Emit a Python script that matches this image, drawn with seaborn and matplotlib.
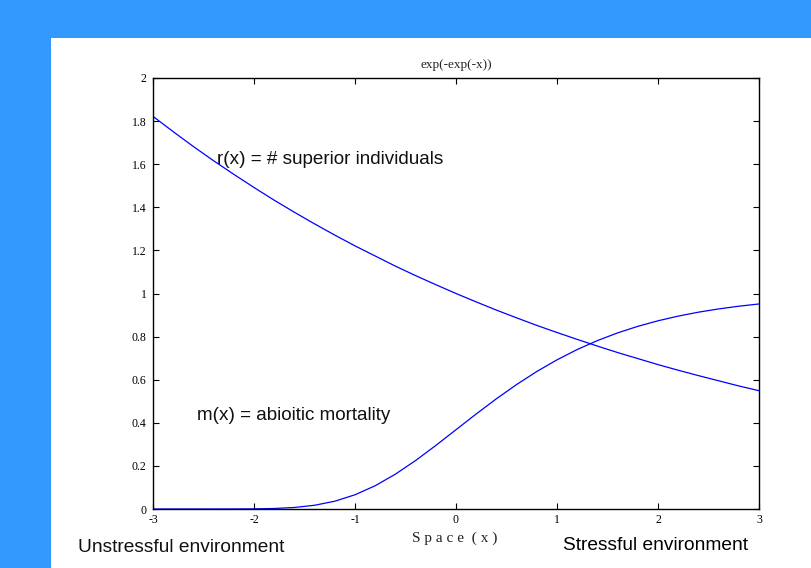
import matplotlib
matplotlib.use("Agg")
import matplotlib.pyplot as plt
import seaborn as sns
import pandas as pd
from matplotlib.patches import Rectangle

# Data
space_x = [-3.0, -2.8, -2.6, -2.4, -2.2, -2.0, -1.8, -1.6, -1.4, -1.2, -1.0,
           -0.8, -0.6, -0.4, -0.2, 0.0, 0.2, 0.4, 0.6, 0.8, 1.0,
           1.2, 1.4, 1.6, 1.8, 2.0, 2.2, 2.4, 2.6, 2.8, 3.0]
r_values = [1.822, 1.751, 1.682, 1.616, 1.553, 1.492, 1.433, 1.377, 1.323, 1.271, 1.221,
            1.174, 1.127, 1.083, 1.041, 1.000, 0.961, 0.923, 0.887, 0.852, 0.819,
            0.787, 0.756, 0.726, 0.698, 0.670, 0.644, 0.619, 0.595, 0.571, 0.549]
m_values = [0.0, 0.0, 0.0, 0.00002, 0.00012, 0.00062, 0.00236, 0.00706, 0.0173, 0.0361, 0.0660,
            0.1080, 0.1617, 0.2250, 0.2948, 0.3679, 0.4410, 0.5115, 0.5776, 0.6381, 0.6922,
            0.7400, 0.7815, 0.8172, 0.8476, 0.8734, 0.8951, 0.9133, 0.9284, 0.9410, 0.9514]
x_ticks = [-3, -2, -1, 0, 1, 2, 3]
y_ticks = [0, 0.2, 0.4, 0.6, 0.8, 1, 1.2, 1.4, 1.6, 1.8, 2]
y_tick_labels = ["0", "0.2", "0.4", "0.6", "0.8", "1", "1.2", "1.4", "1.6", "1.8", "2"]
title = "exp(-exp(-x))"
xlabel = "Space (x)"
r_label = "r(x) = # superior individuals"
m_label = "m(x) = abioitic mortality"
left_note = "Unstressful environment"
right_note = "Stressful environment"

df = pd.DataFrame({"x": space_x * 2,
                   "y": r_values + m_values,
                   "series": ["r"] * len(space_x) + ["m"] * len(space_x)})

sns.set_style("white")
plt.rcParams["font.family"] = ["Liberation Sans", "DejaVu Sans"]

fig = plt.figure(figsize=(8.12, 5.68), dpi=100)
fig.patch.set_facecolor("#3399FF")
fig.patches.append(Rectangle((51 / 812, 0), 1, 1 - 38 / 568, transform=fig.transFigure,
                             facecolor="white", edgecolor="none", zorder=-5))

ax = fig.add_axes([153 / 812, 1 - 509 / 568, (759 - 153) / 812, (509 - 78) / 568])
ax.set_zorder(2)
sns.lineplot(data=df, x="x", y="y", units="series", estimator=None,
             color="#0000FF", linewidth=0.9, ax=ax, legend=False)

ax.set_xlim(-3, 3)
ax.set_ylim(0, 2)
ax.set_xticks(x_ticks)
ax.set_xticklabels([str(t) for t in x_ticks])
ax.set_yticks(y_ticks)
ax.set_yticklabels(y_tick_labels)
for lab in ax.get_xticklabels() + ax.get_yticklabels():
    lab.set_family("Liberation Serif")
    lab.set_fontsize(8.5)
    lab.set_color("#222222")
ax.tick_params(direction="in", length=4.5, width=0.8, top=True, right=True,
               bottom=True, left=True, colors="black")
ax.tick_params(axis="y", pad=4.5)
ax.tick_params(axis="x", pad=3.5)
for s in ax.spines.values():
    s.set_visible(True)
    s.set_color("black")
    s.set_linewidth(1.0)
ax.set_xlabel("")
ax.set_ylabel("")

ax.set_title(title, family="Liberation Serif", fontsize=9.5, pad=7, color="#222222")

ax.text(-2.37, 1.62, r_label, fontsize=13.6, va="center", ha="left", color="#111111")
ax.text(-2.56, 0.436, m_label, fontsize=13.6, va="center", ha="left", color="#111111")

fig.text(455 / 812, 1 - 538 / 568, "S p a c e  ( x )", family="Liberation Serif",
         fontsize=11, ha="center", va="center", color="#222222")
fig.text(78 / 812, 1 - 548 / 568, left_note, fontsize=13.8, ha="left", va="center",
         color="#111111")
fig.text(563 / 812, 1 - 546 / 568, right_note, fontsize=13.8, ha="left", va="center",
         color="black")

fig.savefig("out.png", dpi=100, facecolor=fig.get_facecolor())
